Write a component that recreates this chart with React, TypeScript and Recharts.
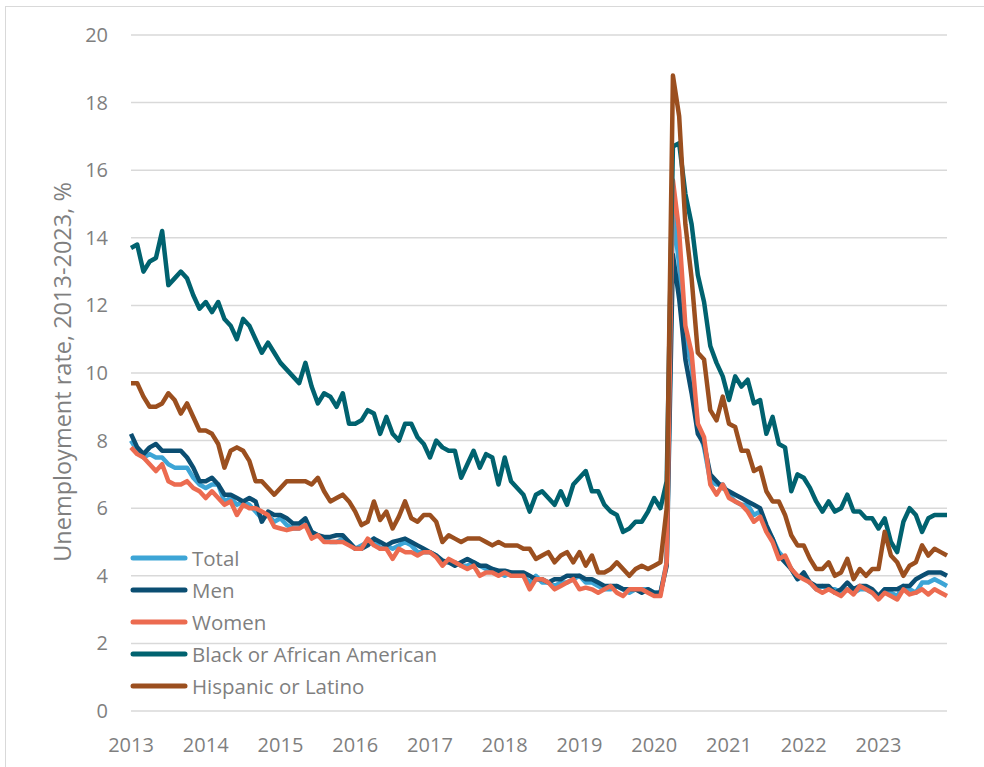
import React from 'react';
import { LineChart, Line, XAxis, YAxis, CartesianGrid } from 'recharts';

// monthly unemployment rate, Jan 2013 - Dec 2023 (%)
const YEARS = ['2013', '2014', '2015', '2016', '2017', '2018', '2019', '2020', '2021', '2022', '2023'];

const TOTAL = [
  8.0, 7.7, 7.5, 7.6, 7.5, 7.5, 7.3, 7.2, 7.2, 7.2, 6.9, 6.7,
  6.6, 6.7, 6.7, 6.2, 6.3, 6.1, 6.2, 6.1, 5.9, 5.7, 5.8, 5.6,
  5.7, 5.5, 5.4, 5.4, 5.6, 5.3, 5.2, 5.1, 5.0, 5.0, 5.1, 5.0,
  4.8, 4.9, 5.0, 5.1, 4.8, 4.9, 4.8, 4.9, 5.0, 4.9, 4.7, 4.7,
  4.7, 4.6, 4.4, 4.4, 4.4, 4.3, 4.3, 4.4, 4.3, 4.2, 4.2, 4.1,
  4.0, 4.1, 4.0, 4.0, 3.8, 4.0, 3.8, 3.8, 3.7, 3.8, 3.8, 3.9,
  4.0, 3.8, 3.8, 3.7, 3.6, 3.6, 3.7, 3.6, 3.5, 3.6, 3.6, 3.6,
  3.5, 3.5, 4.4, 14.8, 13.2, 11.0, 10.2, 8.4, 7.8, 6.8, 6.7, 6.7,
  6.4, 6.2, 6.1, 6.1, 5.8, 5.9, 5.4, 5.1, 4.7, 4.5, 4.2, 3.9,
  4.0, 3.8, 3.6, 3.7, 3.6, 3.6, 3.5, 3.6, 3.5, 3.6, 3.6, 3.5,
  3.4, 3.6, 3.5, 3.4, 3.7, 3.6, 3.5, 3.8, 3.8, 3.9, 3.8, 3.7,
];

const MEN = [
  8.2, 7.8, 7.6, 7.8, 7.9, 7.7, 7.7, 7.7, 7.7, 7.5, 7.2, 6.8,
  6.8, 6.9, 6.7, 6.4, 6.4, 6.3, 6.2, 6.3, 6.2, 5.6, 5.9, 5.8,
  5.8, 5.7, 5.55, 5.55, 5.7, 5.3, 5.2, 5.15, 5.15, 5.2, 5.2, 5.0,
  4.8, 4.8, 4.9, 5.1, 5.0, 4.9, 5.0, 5.05, 5.1, 5.0, 4.9, 4.8,
  4.7, 4.6, 4.45, 4.4, 4.3, 4.4, 4.5, 4.4, 4.3, 4.3, 4.2, 4.15,
  4.15, 4.1, 4.1, 4.1, 4.0, 3.9, 3.9, 3.8, 3.9, 3.9, 4.0, 4.0,
  4.0, 3.9, 3.9, 3.8, 3.7, 3.7, 3.7, 3.6, 3.6, 3.6, 3.5, 3.6,
  3.5, 3.5, 4.3, 13.5, 12.2, 10.4, 9.4, 8.2, 7.9, 7.0, 6.8, 6.6,
  6.5, 6.4, 6.3, 6.2, 6.1, 6.0, 5.5, 5.1, 4.6, 4.4, 4.2, 3.9,
  4.1, 3.8, 3.7, 3.7, 3.7, 3.5, 3.6, 3.8, 3.6, 3.7, 3.7, 3.6,
  3.4, 3.6, 3.6, 3.6, 3.7, 3.7, 3.9, 4.0, 4.1, 4.1, 4.1, 4.0,
];

const WOMEN = [
  7.8, 7.6, 7.5, 7.3, 7.1, 7.3, 6.8, 6.7, 6.7, 6.8, 6.6, 6.5,
  6.3, 6.5, 6.3, 6.1, 6.2, 5.8, 6.1, 6.0, 6.0, 5.9, 5.8, 5.45,
  5.4, 5.35, 5.4, 5.4, 5.5, 5.1, 5.2, 5.0, 5.0, 5.0, 5.0, 4.9,
  4.8, 4.8, 5.1, 4.9, 4.8, 4.8, 4.5, 4.8, 4.7, 4.7, 4.6, 4.7,
  4.7, 4.55, 4.3, 4.5, 4.4, 4.3, 4.2, 4.3, 4.0, 4.1, 4.1, 4.0,
  4.1, 4.0, 4.0, 4.0, 3.6, 3.9, 3.9, 3.8, 3.6, 3.7, 3.8, 3.9,
  3.6, 3.65, 3.6, 3.5, 3.6, 3.7, 3.5, 3.4, 3.6, 3.6, 3.6, 3.5,
  3.4, 3.4, 4.4, 15.7, 14.2, 11.4, 10.6, 8.5, 8.1, 6.7, 6.4, 6.7,
  6.3, 6.2, 6.1, 5.9, 5.6, 5.75, 5.3, 5.0, 4.5, 4.6, 4.2, 4.0,
  3.9, 3.8, 3.6, 3.5, 3.6, 3.5, 3.4, 3.6, 3.45, 3.7, 3.6, 3.5,
  3.3, 3.5, 3.4, 3.3, 3.6, 3.45, 3.5, 3.6, 3.45, 3.6, 3.5, 3.4,
];

const BLACK = [
  13.7, 13.8, 13.0, 13.3, 13.4, 14.2, 12.6, 12.8, 13.0, 12.8, 12.3, 11.9,
  12.1, 11.8, 12.1, 11.6, 11.4, 11.0, 11.6, 11.4, 11.0, 10.6, 10.9, 10.6,
  10.3, 10.1, 9.9, 9.7, 10.3, 9.6, 9.1, 9.4, 9.3, 9.0, 9.4, 8.5,
  8.5, 8.6, 8.9, 8.8, 8.2, 8.7, 8.2, 8.0, 8.5, 8.5, 8.1, 7.9,
  7.5, 8.0, 7.8, 7.7, 7.7, 6.9, 7.3, 7.7, 7.2, 7.6, 7.5, 6.7,
  7.5, 6.8, 6.6, 6.4, 5.9, 6.4, 6.5, 6.3, 6.1, 6.5, 6.1, 6.7,
  6.9, 7.1, 6.5, 6.5, 6.1, 5.9, 5.8, 5.3, 5.4, 5.6, 5.6, 5.9,
  6.3, 6.0, 6.8, 16.7, 16.8, 15.3, 14.4, 12.9, 12.1, 10.8, 10.3, 9.9,
  9.2, 9.9, 9.6, 9.8, 9.1, 9.2, 8.2, 8.7, 7.9, 7.8, 6.5, 7.0,
  6.9, 6.6, 6.2, 5.9, 6.2, 5.9, 6.0, 6.4, 5.9, 5.9, 5.7, 5.7,
  5.4, 5.7, 5.0, 4.7, 5.6, 6.0, 5.8, 5.3, 5.7, 5.8, 5.8, 5.8,
];

const HISPANIC = [
  9.7, 9.7, 9.3, 9.0, 9.0, 9.1, 9.4, 9.2, 8.8, 9.1, 8.7, 8.3,
  8.3, 8.2, 7.9, 7.2, 7.7, 7.8, 7.7, 7.4, 6.8, 6.8, 6.6, 6.4,
  6.6, 6.8, 6.8, 6.8, 6.8, 6.7, 6.9, 6.5, 6.2, 6.3, 6.4, 6.2,
  5.9, 5.5, 5.6, 6.2, 5.65, 5.9, 5.4, 5.75, 6.2, 5.7, 5.6, 5.8,
  5.8, 5.6, 5.0, 5.2, 5.1, 5.0, 5.1, 5.1, 5.1, 5.0, 4.9, 5.0,
  4.9, 4.9, 4.9, 4.8, 4.8, 4.5, 4.6, 4.7, 4.4, 4.6, 4.7, 4.4,
  4.7, 4.3, 4.6, 4.1, 4.1, 4.2, 4.4, 4.2, 4.0, 4.2, 4.3, 4.2,
  4.3, 4.4, 6.0, 18.8, 17.6, 14.4, 12.8, 10.6, 10.4, 8.9, 8.6, 9.3,
  8.5, 8.4, 7.7, 7.7, 7.1, 7.2, 6.5, 6.2, 6.2, 5.8, 5.2, 4.9,
  4.9, 4.5, 4.2, 4.2, 4.4, 4.0, 4.1, 4.5, 3.9, 4.2, 4.0, 4.2,
  4.2, 5.3, 4.6, 4.4, 4.0, 4.3, 4.4, 4.9, 4.6, 4.8, 4.7, 4.6,
];

const SERIES = [
  { key: 'total', name: 'Total', color: '#3DA5D6', values: TOTAL },
  { key: 'men', name: 'Men', color: '#0B4E72', values: MEN },
  { key: 'women', name: 'Women', color: '#EC6B50', values: WOMEN },
  { key: 'black', name: 'Black or African American', color: '#00626F', values: BLACK },
  { key: 'hispanic', name: 'Hispanic or Latino', color: '#9B4F1F', values: HISPANIC },
];

const Y_TICKS = [0, 2, 4, 6, 8, 10, 12, 14, 16, 18, 20];
const X_TICKS = YEARS.map((_, k) => k * 12);

const data = TOTAL.map((_, i) => {
  const row: Record<string, number> = { i };
  SERIES.forEach((s) => {
    row[s.key] = s.values[i];
  });
  return row;
});

const FONT = '"Open Sans", sans-serif';
const GREY = '#7f7f7f';

const XTick = (props: any) => {
  const { x, y, payload } = props;
  return (
    <text x={x} y={y + 41} textAnchor="middle" fill={GREY} fontSize={20} fontFamily={FONT}>
      {YEARS[Math.round(payload.value / 12)]}
    </text>
  );
};

const YTick = (props: any) => {
  const { x, y, payload } = props;
  return (
    <text x={x - 23} y={y + 7} textAnchor="end" fill={GREY} fontSize={20} fontFamily={FONT}>
      {payload.value}
    </text>
  );
};

export default function App() {
  return (
    <div style={{ position: 'fixed', left: 0, top: 0, width: 984, height: 767, background: '#fff', overflow: 'hidden' }}>
      <div
        style={{
          position: 'absolute',
          left: 5,
          top: 6,
          width: 1000,
          height: 800,
          borderLeft: '1px solid #d9d9d9',
          borderTop: '1px solid #d9d9d9',
        }}
      />
      <LineChart width={984} height={767} data={data} margin={{ top: 35, right: 37, bottom: 26, left: 71 }}>
        <CartesianGrid vertical={false} stroke="#d9d9d9" strokeWidth={1.5} />
        <XAxis
          dataKey="i"
          type="number"
          domain={[0, TOTAL.length - 1]}
          ticks={X_TICKS}
          tick={<XTick />}
          tickLine={false}
          axisLine={false}
          tickSize={0}
          tickMargin={0}
          height={30}
          interval={0}
        />
        <YAxis
          domain={[0, 20]}
          ticks={Y_TICKS}
          tick={<YTick />}
          tickLine={false}
          axisLine={false}
          tickSize={0}
          tickMargin={0}
          width={60}
          interval={0}
        />
        {SERIES.map((s) => (
          <Line
            key={s.key}
            type="linear"
            dataKey={s.key}
            name={s.name}
            stroke={s.color}
            strokeWidth={4.5}
            dot={false}
            isAnimationActive={false}
            strokeLinejoin="round"
          />
        ))}
      </LineChart>
      <div
        style={{
          position: 'absolute',
          left: 62,
          top: 372,
          transform: 'translate(-50%, -50%) rotate(-90deg)',
          whiteSpace: 'nowrap',
          fontFamily: FONT,
          fontSize: 23.5,
          color: GREY,
        }}
      >
        Unemployment rate, 2013-2023, %
      </div>
      <div style={{ position: 'absolute', left: 130, top: 542, fontFamily: FONT, fontSize: 20.5, color: GREY }}>
        {SERIES.map((s) => (
          <div key={s.key} style={{ display: 'flex', alignItems: 'center', height: 32 }}>
            <svg width={58} height={8} style={{ marginRight: 4 }}>
              <line x1={3} y1={4} x2={55} y2={4} stroke={s.color} strokeWidth={5} strokeLinecap="round" />
            </svg>
            <span>{s.name}</span>
          </div>
        ))}
      </div>
    </div>
  );
}
